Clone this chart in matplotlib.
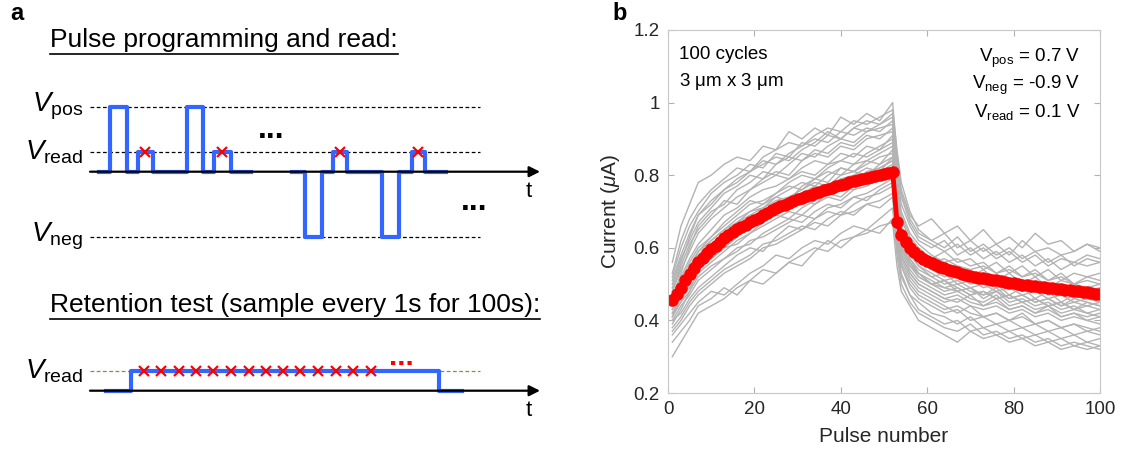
import matplotlib
matplotlib.use('Agg')
import matplotlib.pyplot as plt
from matplotlib.lines import Line2D

plt.rcParams['font.family'] = ['Liberation Sans', 'DejaVu Sans']
plt.rcParams['mathtext.fontset'] = 'custom'
plt.rcParams['mathtext.rm'] = 'Liberation Sans'
plt.rcParams['mathtext.it'] = 'Liberation Sans:italic'

# ---- panel a: schematic waveforms (t in arbitrary units, levels are schematic) ----
LEVEL_POS = 1.0
LEVEL_READ = 0.3
LEVEL_NEG = -1.0

set_t = [99, 110, 127, 138, 153, 187, 203, 214, 231, 251]
set_v = [0, LEVEL_POS, 0, LEVEL_READ, 0, LEVEL_POS, 0, LEVEL_READ, 0, 0]
reset_t = [292, 305, 322, 333, 347, 382, 399, 412, 425, 446]
reset_v = [0, LEVEL_NEG, 0, LEVEL_READ, 0, LEVEL_NEG, 0, LEVEL_READ, 0, 0]
read_marks_t = [145, 222, 340, 418]

retention_t = [106, 131, 439, 462]
retention_v = [0, LEVEL_READ, 0, 0]
sample_t = [144, 161, 179, 196, 213, 231, 249, 266, 283, 300, 318, 336, 353, 371]

# ---- panel b: current vs pulse number ----
mean_current = [
    0.457, 0.472, 0.490, 0.510, 0.528, 0.545, 0.560, 0.573, 0.585, 0.596,
    0.606, 0.616, 0.626, 0.635, 0.644, 0.651, 0.658, 0.664, 0.670, 0.676,
    0.683, 0.690, 0.697, 0.703, 0.709, 0.714, 0.719, 0.724, 0.729, 0.734,
    0.738, 0.742, 0.746, 0.750, 0.754, 0.758, 0.762, 0.766, 0.770, 0.774,
    0.777, 0.780, 0.783, 0.786, 0.789, 0.792, 0.795, 0.798, 0.801, 0.804,
    0.807, 0.810, 0.672, 0.636, 0.615, 0.600, 0.588, 0.578, 0.570, 0.563,
    0.557, 0.552, 0.547, 0.543, 0.539, 0.535, 0.532, 0.529, 0.526, 0.523,
    0.520, 0.518, 0.516, 0.514, 0.512, 0.510, 0.508, 0.506, 0.504, 0.502,
    0.500, 0.498, 0.497, 0.495, 0.494, 0.492, 0.491, 0.490, 0.488, 0.487,
    0.486, 0.484, 0.483, 0.481, 0.480, 0.478, 0.477, 0.475, 0.474, 0.472,
]
pulse_number = list(range(1, len(mean_current) + 1))

# individual cycles, read at a subset of pulses
cycle_pulses = [1, 3, 5, 7, 10, 13, 16, 19, 22, 25, 28, 31, 34, 37, 40, 43, 46, 49, 52,
                53, 54, 56, 58, 61, 64, 67, 70, 73, 76, 79, 82, 85, 88, 91, 94, 97, 100]
cycle_01 = [0.56, 0.66, 0.72, 0.78, 0.80, 0.83, 0.85, 0.84, 0.88, 0.87, 0.92, 0.90, 0.93, 0.91, 0.96, 0.94, 0.97, 0.95, 1.00,
            0.86, 0.76, 0.69, 0.66, 0.68, 0.64, 0.66, 0.62, 0.65, 0.61, 0.63, 0.60, 0.64, 0.61, 0.62, 0.59, 0.61, 0.60]
cycle_02 = [0.52, 0.60, 0.66, 0.70, 0.75, 0.78, 0.80, 0.83, 0.82, 0.86, 0.85, 0.89, 0.88, 0.91, 0.90, 0.93, 0.92, 0.94, 0.96,
            0.80, 0.72, 0.66, 0.62, 0.60, 0.62, 0.58, 0.60, 0.57, 0.59, 0.56, 0.58, 0.55, 0.57, 0.54, 0.56, 0.55, 0.56]
cycle_03 = [0.50, 0.57, 0.62, 0.67, 0.71, 0.75, 0.77, 0.80, 0.79, 0.83, 0.85, 0.84, 0.87, 0.86, 0.89, 0.88, 0.91, 0.90, 0.93,
            0.76, 0.69, 0.63, 0.60, 0.57, 0.59, 0.56, 0.57, 0.54, 0.56, 0.53, 0.55, 0.52, 0.54, 0.51, 0.53, 0.52, 0.53]
cycle_04 = [0.48, 0.54, 0.59, 0.64, 0.68, 0.71, 0.74, 0.76, 0.78, 0.80, 0.79, 0.82, 0.84, 0.83, 0.86, 0.85, 0.88, 0.87, 0.91,
            0.74, 0.66, 0.61, 0.58, 0.55, 0.56, 0.54, 0.52, 0.54, 0.51, 0.53, 0.50, 0.52, 0.49, 0.51, 0.50, 0.49, 0.50]
cycle_05 = [0.47, 0.52, 0.57, 0.61, 0.65, 0.69, 0.71, 0.74, 0.76, 0.77, 0.79, 0.81, 0.80, 0.83, 0.84, 0.86, 0.85, 0.87, 0.89,
            0.72, 0.64, 0.59, 0.56, 0.54, 0.52, 0.53, 0.51, 0.50, 0.52, 0.49, 0.50, 0.48, 0.50, 0.47, 0.49, 0.48, 0.47]
cycle_06 = [0.45, 0.50, 0.55, 0.59, 0.63, 0.66, 0.69, 0.72, 0.73, 0.75, 0.77, 0.76, 0.79, 0.81, 0.80, 0.83, 0.84, 0.83, 0.87,
            0.70, 0.62, 0.57, 0.54, 0.52, 0.50, 0.51, 0.49, 0.50, 0.48, 0.49, 0.47, 0.48, 0.46, 0.47, 0.45, 0.46, 0.45]
cycle_07 = [0.44, 0.48, 0.53, 0.57, 0.61, 0.64, 0.67, 0.69, 0.71, 0.73, 0.74, 0.76, 0.78, 0.77, 0.80, 0.81, 0.80, 0.83, 0.85,
            0.68, 0.61, 0.56, 0.53, 0.51, 0.49, 0.48, 0.49, 0.47, 0.48, 0.46, 0.47, 0.45, 0.46, 0.44, 0.45, 0.44, 0.45]
cycle_08 = [0.43, 0.47, 0.51, 0.55, 0.58, 0.62, 0.64, 0.67, 0.69, 0.70, 0.72, 0.74, 0.73, 0.76, 0.78, 0.77, 0.79, 0.81, 0.83,
            0.66, 0.59, 0.54, 0.51, 0.49, 0.47, 0.48, 0.46, 0.45, 0.47, 0.44, 0.45, 0.43, 0.44, 0.42, 0.43, 0.42, 0.41]
cycle_09 = [0.42, 0.46, 0.49, 0.53, 0.56, 0.59, 0.62, 0.64, 0.66, 0.68, 0.70, 0.69, 0.72, 0.74, 0.73, 0.76, 0.77, 0.79, 0.81,
            0.64, 0.57, 0.52, 0.49, 0.47, 0.45, 0.46, 0.44, 0.43, 0.44, 0.42, 0.43, 0.41, 0.42, 0.40, 0.41, 0.40, 0.39]
cycle_10 = [0.40, 0.44, 0.47, 0.51, 0.54, 0.57, 0.59, 0.62, 0.63, 0.65, 0.67, 0.69, 0.68, 0.71, 0.72, 0.74, 0.73, 0.76, 0.78,
            0.62, 0.55, 0.50, 0.47, 0.45, 0.43, 0.44, 0.42, 0.41, 0.42, 0.40, 0.41, 0.39, 0.40, 0.38, 0.39, 0.37, 0.38]
cycle_11 = [0.38, 0.41, 0.45, 0.48, 0.51, 0.54, 0.56, 0.58, 0.61, 0.62, 0.64, 0.66, 0.65, 0.68, 0.70, 0.69, 0.72, 0.73, 0.75,
            0.60, 0.52, 0.47, 0.45, 0.42, 0.41, 0.39, 0.41, 0.38, 0.39, 0.37, 0.38, 0.36, 0.37, 0.35, 0.36, 0.34, 0.35]
cycle_12 = [0.36, 0.39, 0.42, 0.45, 0.48, 0.47, 0.50, 0.53, 0.55, 0.58, 0.57, 0.60, 0.62, 0.61, 0.64, 0.66, 0.65, 0.68, 0.71,
            0.58, 0.50, 0.45, 0.42, 0.40, 0.38, 0.37, 0.39, 0.36, 0.37, 0.35, 0.36, 0.34, 0.35, 0.33, 0.34, 0.33, 0.32]
cycle_13 = [0.30, 0.34, 0.38, 0.42, 0.44, 0.46, 0.49, 0.51, 0.50, 0.53, 0.56, 0.55, 0.59, 0.62, 0.60, 0.63, 0.64, 0.66, 0.67,
            0.55, 0.48, 0.44, 0.40, 0.38, 0.36, 0.34, 0.37, 0.35, 0.36, 0.34, 0.35, 0.33, 0.34, 0.32, 0.33, 0.32, 0.33]
cycle_14 = [0.46, 0.53, 0.60, 0.66, 0.70, 0.72, 0.76, 0.78, 0.81, 0.80, 0.83, 0.86, 0.85, 0.88, 0.90, 0.89, 0.92, 0.93, 0.94,
            0.70, 0.60, 0.55, 0.53, 0.50, 0.51, 0.49, 0.47, 0.48, 0.46, 0.47, 0.45, 0.46, 0.44, 0.45, 0.43, 0.44, 0.43]
cycle_15 = [0.41, 0.47, 0.52, 0.58, 0.62, 0.65, 0.67, 0.70, 0.72, 0.74, 0.73, 0.77, 0.79, 0.78, 0.82, 0.81, 0.84, 0.86, 0.88,
            0.78, 0.70, 0.64, 0.61, 0.58, 0.56, 0.57, 0.55, 0.56, 0.53, 0.55, 0.52, 0.54, 0.51, 0.53, 0.50, 0.52, 0.51]
cycle_16 = [0.39, 0.43, 0.48, 0.54, 0.57, 0.60, 0.63, 0.66, 0.67, 0.70, 0.71, 0.73, 0.72, 0.75, 0.77, 0.76, 0.79, 0.80, 0.82,
            0.72, 0.64, 0.58, 0.55, 0.52, 0.53, 0.50, 0.51, 0.49, 0.50, 0.47, 0.49, 0.46, 0.48, 0.45, 0.47, 0.46, 0.47]
cycle_17 = [0.34, 0.37, 0.40, 0.44, 0.46, 0.49, 0.47, 0.51, 0.54, 0.53, 0.56, 0.58, 0.60, 0.59, 0.62, 0.63, 0.65, 0.64, 0.68,
            0.61, 0.53, 0.47, 0.43, 0.41, 0.39, 0.40, 0.37, 0.38, 0.36, 0.37, 0.35, 0.36, 0.34, 0.35, 0.33, 0.34, 0.33]
cycle_18 = [0.49, 0.56, 0.63, 0.69, 0.73, 0.76, 0.79, 0.81, 0.84, 0.83, 0.86, 0.88, 0.90, 0.89, 0.92, 0.91, 0.93, 0.92, 0.95,
            0.82, 0.74, 0.67, 0.63, 0.61, 0.59, 0.61, 0.58, 0.60, 0.57, 0.59, 0.56, 0.58, 0.55, 0.57, 0.56, 0.58, 0.57]
cycle_19 = [0.45, 0.49, 0.54, 0.58, 0.60, 0.63, 0.65, 0.68, 0.70, 0.72, 0.71, 0.75, 0.74, 0.77, 0.79, 0.78, 0.81, 0.82, 0.84,
            0.65, 0.58, 0.53, 0.50, 0.48, 0.46, 0.47, 0.45, 0.44, 0.46, 0.43, 0.44, 0.42, 0.43, 0.41, 0.42, 0.40, 0.41]
cycle_20 = [0.42, 0.45, 0.48, 0.52, 0.55, 0.57, 0.60, 0.61, 0.64, 0.66, 0.68, 0.67, 0.70, 0.72, 0.71, 0.74, 0.75, 0.77, 0.79,
            0.68, 0.60, 0.55, 0.52, 0.50, 0.48, 0.49, 0.47, 0.48, 0.46, 0.47, 0.45, 0.46, 0.44, 0.45, 0.43, 0.45, 0.44]
cycle_21 = [0.51, 0.58, 0.64, 0.69, 0.72, 0.76, 0.78, 0.81, 0.83, 0.85, 0.84, 0.87, 0.89, 0.92, 0.90, 0.93, 0.95, 0.94, 0.97,
            0.84, 0.75, 0.68, 0.64, 0.62, 0.60, 0.63, 0.59, 0.61, 0.58, 0.60, 0.57, 0.59, 0.56, 0.58, 0.55, 0.57, 0.56]
cycle_22 = [0.47, 0.51, 0.56, 0.60, 0.63, 0.67, 0.70, 0.73, 0.72, 0.75, 0.78, 0.80, 0.79, 0.82, 0.84, 0.83, 0.86, 0.88, 0.90,
            0.75, 0.66, 0.60, 0.57, 0.54, 0.55, 0.52, 0.53, 0.51, 0.52, 0.50, 0.51, 0.49, 0.50, 0.48, 0.49, 0.48, 0.49]
cycle_23 = [0.43, 0.46, 0.50, 0.54, 0.57, 0.60, 0.61, 0.64, 0.67, 0.69, 0.68, 0.71, 0.73, 0.75, 0.74, 0.77, 0.78, 0.80, 0.82,
            0.66, 0.58, 0.53, 0.50, 0.48, 0.46, 0.45, 0.47, 0.44, 0.45, 0.43, 0.44, 0.42, 0.44, 0.41, 0.42, 0.41, 0.42]
cycle_24 = [0.41, 0.45, 0.50, 0.55, 0.59, 0.61, 0.64, 0.66, 0.68, 0.71, 0.73, 0.72, 0.75, 0.77, 0.76, 0.79, 0.80, 0.82, 0.84,
            0.70, 0.63, 0.57, 0.53, 0.50, 0.49, 0.50, 0.48, 0.47, 0.49, 0.46, 0.47, 0.45, 0.46, 0.44, 0.46, 0.45, 0.44]
cycle_25 = [0.37, 0.40, 0.44, 0.47, 0.50, 0.53, 0.55, 0.57, 0.60, 0.61, 0.63, 0.65, 0.67, 0.66, 0.69, 0.70, 0.72, 0.71, 0.74,
            0.63, 0.55, 0.49, 0.46, 0.44, 0.42, 0.43, 0.40, 0.41, 0.39, 0.40, 0.38, 0.39, 0.37, 0.38, 0.36, 0.37, 0.36]
cycle_26 = [0.48, 0.55, 0.61, 0.65, 0.69, 0.73, 0.72, 0.76, 0.79, 0.81, 0.80, 0.84, 0.86, 0.85, 0.88, 0.87, 0.90, 0.91, 0.92,
            0.77, 0.68, 0.62, 0.59, 0.56, 0.57, 0.55, 0.54, 0.55, 0.53, 0.54, 0.52, 0.53, 0.51, 0.52, 0.50, 0.51, 0.50]
cycle_27 = [0.44, 0.49, 0.53, 0.56, 0.59, 0.62, 0.66, 0.68, 0.69, 0.72, 0.74, 0.75, 0.77, 0.76, 0.79, 0.80, 0.82, 0.81, 0.85,
            0.69, 0.61, 0.56, 0.52, 0.50, 0.51, 0.48, 0.49, 0.46, 0.48, 0.45, 0.46, 0.44, 0.45, 0.43, 0.44, 0.42, 0.43]
cycle_28 = [0.40, 0.42, 0.46, 0.49, 0.52, 0.55, 0.58, 0.60, 0.59, 0.63, 0.66, 0.65, 0.68, 0.70, 0.69, 0.72, 0.74, 0.75, 0.77,
            0.64, 0.56, 0.51, 0.48, 0.46, 0.44, 0.42, 0.44, 0.41, 0.42, 0.40, 0.42, 0.39, 0.40, 0.38, 0.39, 0.38, 0.37]
cycle_29 = [0.53, 0.62, 0.68, 0.72, 0.76, 0.79, 0.82, 0.81, 0.85, 0.87, 0.89, 0.88, 0.91, 0.93, 0.92, 0.95, 0.94, 0.96, 0.98,
            0.87, 0.78, 0.70, 0.65, 0.62, 0.64, 0.60, 0.62, 0.59, 0.61, 0.58, 0.62, 0.59, 0.60, 0.58, 0.59, 0.61, 0.59]
cycle_30 = [0.46, 0.50, 0.54, 0.59, 0.62, 0.65, 0.68, 0.70, 0.71, 0.74, 0.76, 0.78, 0.77, 0.80, 0.82, 0.81, 0.83, 0.85, 0.86,
            0.73, 0.65, 0.59, 0.55, 0.53, 0.51, 0.52, 0.50, 0.51, 0.49, 0.50, 0.48, 0.49, 0.47, 0.48, 0.46, 0.47, 0.46]
cycles = [cycle_01, cycle_02, cycle_03, cycle_04, cycle_05, cycle_06, cycle_07, cycle_08, cycle_09, cycle_10,
          cycle_11, cycle_12, cycle_13, cycle_14, cycle_15, cycle_16, cycle_17, cycle_18, cycle_19, cycle_20,
          cycle_21, cycle_22, cycle_23, cycle_24, cycle_25, cycle_26, cycle_27, cycle_28, cycle_29, cycle_30]

x_ticks = [0, 20, 40, 60, 80, 100]
y_ticks = [0.2, 0.4, 0.6, 0.8, 1.0, 1.2]
y_ticklabels = ['0.2', '0.4', '0.6', '0.8', '1', '1.2']

W, H = 1134, 459
BLUE = '#3366ff'
fig = plt.figure(figsize=(W / 100, H / 100), dpi=100)


def px_axes(x0, y0, x1, y1):
    # axes placed by pixel box (y measured from top)
    return fig.add_axes([x0 / W, 1 - y1 / H, (x1 - x0) / W, (y1 - y0) / H])


def draw_axis(ax):
    ax.annotate('', xy=(540, 0), xytext=(90, 0),
                arrowprops=dict(arrowstyle='-|>', lw=1.6, color='k', mutation_scale=16, shrinkA=0, shrinkB=0))
    ax.text(529, -0.3, 't', fontsize=16, ha='center', va='center')


# top schematic: level 0 at y=171.7px, 65 px per unit
ax1 = px_axes(0, 60, 560, 250)
ax1.set_xlim(0, 560)
ax1.set_ylim((171.7 - 250) / 65, (171.7 - 60) / 65)
ax1.axis('off')
for lev in (LEVEL_POS, LEVEL_READ, LEVEL_NEG):
    ax1.plot([90, 480], [lev, lev], 'k--', lw=0.9, dashes=(3, 2))
draw_axis(ax1)
ax1.plot(set_t, set_v, drawstyle='steps-post', color=BLUE, lw=3)
ax1.plot(reset_t, reset_v, drawstyle='steps-post', color=BLUE, lw=3)
ax1.plot(read_marks_t, [LEVEL_READ] * len(read_marks_t), 'x', color='red', ms=7, mew=1.6)
ax1.text(271, 0.64, '...', fontsize=23, fontweight='bold', ha='center', va='center')
ax1.text(474, -0.47, '...', fontsize=23, fontweight='bold', ha='center', va='center')
for lev, name in ((LEVEL_POS, 'pos'), (LEVEL_READ, 'read'), (LEVEL_NEG, 'neg')):
    ax1.text(83, lev, r'$V_{\mathrm{%s}}$' % name, fontsize=20, ha='right', va='center')

# retention schematic
ax2 = px_axes(0, 330, 560, 430)
ax2.set_xlim(0, 560)
ax2.set_ylim((390.7 - 430) / 65, (390.7 - 330) / 65)
ax2.axis('off')
ax2.plot([90, 480], [LEVEL_READ, LEVEL_READ], '--', color='#6b9a4b', lw=0.9, dashes=(3, 2))
draw_axis(ax2)
ax2.plot(retention_t, retention_v, drawstyle='steps-post', color=BLUE, lw=3)
ax2.plot(sample_t, [LEVEL_READ] * len(sample_t), 'x', color='red', ms=7, mew=1.6)
ax2.text(401, 0.52, '...', fontsize=21, fontweight='bold', color='red', ha='center', va='center')
ax2.text(83, LEVEL_READ, r'$V_{\mathrm{read}}$', fontsize=20, ha='right', va='center')

# titles with underline
titles = [fig.text(50 / W, 1 - 40 / H, 'Pulse programming and read:', fontsize=19, va='center'),
          fig.text(50 / W, 1 - 305 / H, 'Retention test (sample every 1s for 100s):', fontsize=19, va='center')]
fig.text(10 / W, 1 - 14 / H, 'a', fontsize=17, fontweight='bold', va='center')
fig.text(612 / W, 1 - 14 / H, 'b', fontsize=17, fontweight='bold', va='center')

# panel b
ax = px_axes(668, 30, 1100, 393)
for c in cycles:
    ax.plot(cycle_pulses, c, color='#b3b3b3', lw=1.0)
ax.plot(pulse_number, mean_current, '-o', color='red', lw=3.5, ms=8, mec='red', mfc='red')
ax.set_xlim(0, 100)
ax.set_ylim(0.2, 1.2)
ax.set_xticks(x_ticks)
ax.set_yticks(y_ticks)
ax.set_yticklabels(y_ticklabels)
ax.tick_params(direction='in', length=4, color='#b0b0b0', labelsize=13.5, labelcolor='#262626',
               top=True, right=True, pad=6)
for s in ax.spines.values():
    s.set_color('#c8c8c8')
ax.set_xlabel('Pulse number', fontsize=15, color='#262626', labelpad=6)
ax.set_ylabel(r'Current ($\mu$A)', fontsize=15, color='#262626', labelpad=8)
ax.text(0.025, 0.955, '100 cycles\n' + r'3 $\mathrm{\mu}$m x 3 $\mathrm{\mu}$m', transform=ax.transAxes,
        fontsize=13.5, va='top', ha='left', linespacing=1.5)
ax.text(0.955, 0.955, r'V$_{\mathrm{pos}}$ = 0.7 V' + '\n' + r'V$_{\mathrm{neg}}$ = -0.9 V' + '\n'
        + r'V$_{\mathrm{read}}$ = 0.1 V', transform=ax.transAxes, fontsize=13.5, va='top', ha='right',
        multialignment='right', linespacing=1.3)

fig.canvas.draw()
r = fig.canvas.get_renderer()
for t in titles:
    bb = t.get_window_extent(r)
    y = bb.y0 - 2
    fig.add_artist(Line2D([bb.x0 / W, bb.x1 / W], [y / H, y / H], color='k', lw=1.2))

fig.savefig('out.png', dpi=100)
